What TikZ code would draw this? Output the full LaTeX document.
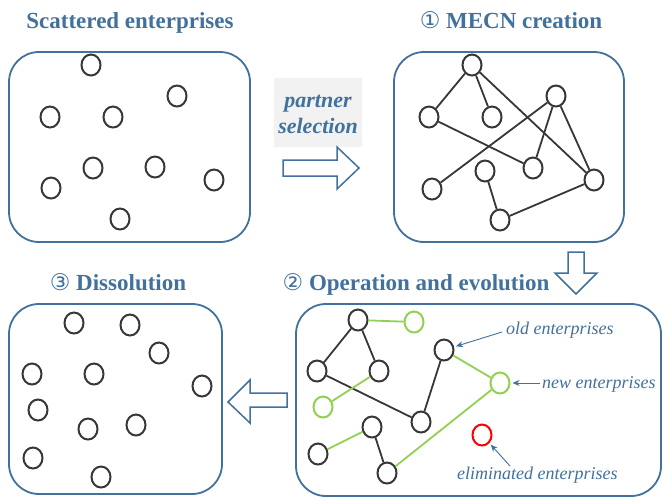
\documentclass[tikz,border=0pt]{standalone}
\usepackage{fontspec}
\setmainfont{Liberation Serif}
\newfontfamily\circfont{DejaVu Sans}
\usepackage{xcolor}
\usepackage{tikz}
\usetikzlibrary{arrows.meta,shapes.geometric}

\definecolor{frameblue}{RGB}{65,113,156}
\definecolor{entgray}{RGB}{55,55,55}
\definecolor{entgreen}{RGB}{146,208,80}
\definecolor{selbg}{RGB}{242,242,242}

\begin{document}
\begin{tikzpicture}[x=1pt,y=-1pt,>=Latex,
  ent/.style={ellipse,draw=entgray,line width=2pt,minimum width=19pt,minimum height=21pt,inner sep=0pt},
  newent/.style={ent,draw=entgreen},
  gone/.style={ent,draw=red},
  link/.style={draw=entgray,line width=1.8pt},
  newlink/.style={draw=entgreen,line width=1.8pt},
  framebox/.style={draw=frameblue,line width=1.8pt,rounded corners=30pt},
  blockarrow/.style={draw=frameblue,line width=1.5pt,fill=white,line join=miter},
  title/.style={text=frameblue,font=\fontsize{23}{25}\selectfont\bfseries,anchor=base,inner sep=0pt},
  note/.style={text=frameblue,font=\fontsize{18}{20}\selectfont\itshape,anchor=base west,inner sep=0pt},
  pointer/.style={draw=frameblue,line width=0.9pt,-{Stealth[length=7pt,width=6pt]},shorten >=2pt}]
  \useasboundingbox (0,0) rectangle (663,499);

  % titles
  \node[title] (t0) at (130,28) {Scattered enterprises};
  \node[title] (t1) at (511,28) {{\circfont\mdseries ①} MECN creation};
  \node[title] (t2) at (416,290) {{\circfont\mdseries ②} Operation and evolution};
  \node[title] (t3) at (118,290) {{\circfont\mdseries ③} Dissolution};

  % frames
  \draw[framebox] (9,52) rectangle (250,242);
  \draw[framebox] (394,52) rectangle (624,242);
  \draw[framebox] (9,304) rectangle (222,494);
  \draw[framebox] (296,304) rectangle (661,496);

  % scattered enterprises
  \foreach \p [count=\i] in {(91,65),(177,96),(50,117),(113,117),(93,168),
                             (155,167),(214,180),(51,188),(120,219)}
     \node[ent] (s\i) at \p {};

  % partner selection
  \fill[selbg] (274,78) rectangle (362,147);
  \node[title,font=\fontsize{22}{24}\selectfont\bfseries\itshape] (sel1) at (318,107) {partner};
  \node[title,font=\fontsize{22}{24}\selectfont\bfseries\itshape] (sel2) at (318,133) {selection};
  \draw[blockarrow] (283,160) -- (337,160) -- (337,147) -- (359,168) -- (337,189)
                    -- (337,176) -- (283,176) -- cycle;

  % MECN creation
  \node[ent] (a) at (472,65) {};
  \node[ent] (b) at (556,96) {};
  \node[ent] (c) at (429,117) {};
  \node[ent] (d) at (492,117) {};
  \node[ent] (e) at (533,168) {};
  \node[ent] (f) at (485,171) {};
  \node[ent] (g) at (594,180) {};
  \node[ent] (h) at (432,189) {};
  \node[ent] (i) at (500,220) {};
  \foreach \u/\v in {a/c,a/d,a/g,c/e,b/e,b/h,b/g,f/i,i/g}
     \draw[link] (\u) -- (\v);

  \draw[blockarrow] (568,252) -- (584,252) -- (584,273) -- (597,273) -- (576,294)
                    -- (555,273) -- (568,273) -- cycle;

  % operation and evolution
  \node[ent] (p1) at (358,320) {};
  \node[newent] (q1) at (414,322) {};
  \node[ent] (p2) at (444,350) {};
  \node[ent] (p3) at (317,371) {};
  \node[ent] (p4) at (379,371) {};
  \node[newent] (q2) at (500,383) {};
  \node[newent] (q3) at (323,407) {};
  \node[ent] (p5) at (421,422) {};
  \node[ent] (p6) at (372,427) {};
  \node[gone] (r) at (482,435) {};
  \node[ent] (p7) at (318,454) {};
  \node[ent] (p8) at (387,473) {};
  \foreach \u/\v in {p1/p3,p1/p4,p3/p5,p5/p2,p6/p8}
     \draw[link] (\u) -- (\v);
  \foreach \u/\v in {p1/q1,p4/q3,p2/q2,q2/p8,p6/p7}
     \draw[newlink] (\u) -- (\v);

  \node[note] (oldtxt) at (506,334) {old enterprises};
  \node[note] (newtxt) at (542,388) {new enterprises};
  \node[note] (gonetxt) at (457,479) {eliminated enterprises};
  \draw[pointer] ([shift={(-4,-2)}]oldtxt.base west) -- (p2);
  \draw[pointer] ([shift={(-2,-5)}]newtxt.base west) -- (q2);
  \draw[pointer] ([shift={(53,-13)}]gonetxt.base west) -- (r);

  \draw[blockarrow] (287,393) -- (250,393) -- (250,380) -- (228,402) -- (250,423)
                    -- (250,407) -- (287,407) -- cycle;

  % dissolution
  \foreach \p [count=\i] in {(74,323),(130,325),(159,353),(32,374),(94,374),(202,386),
                             (38,410),(88,429),(136,425),(33,458),(101,477)}
     \node[ent] (z\i) at \p {};
\end{tikzpicture}
\end{document}
